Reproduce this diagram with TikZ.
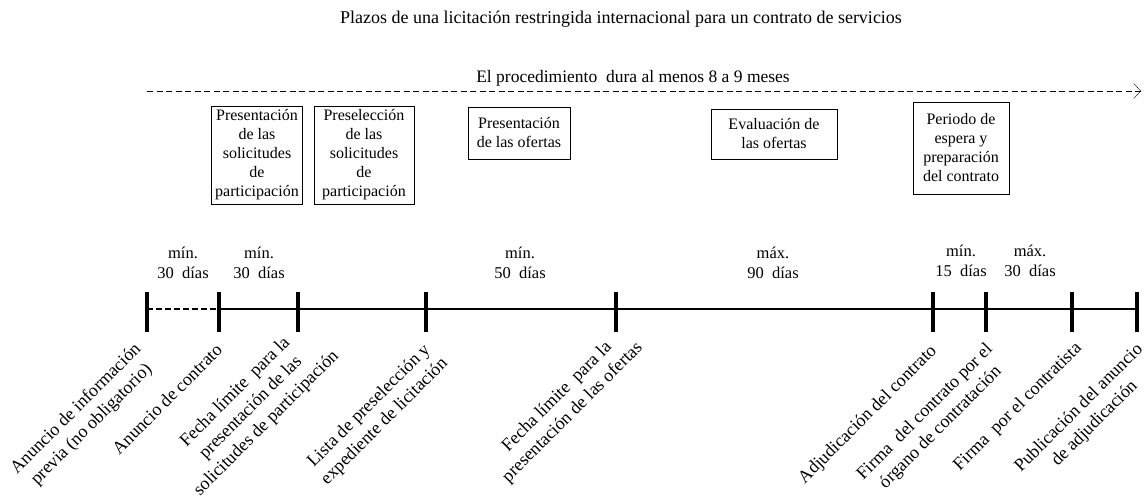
\documentclass[tikz,border=0pt]{standalone}
\usepackage{fontspec}
\setmainfont{Liberation Serif}
\usepackage{tikz}
\usetikzlibrary{arrows.meta}

\begin{document}
\begin{tikzpicture}[x=1pt,y=-1pt,
    box/.style={draw,thick,align=center,inner sep=2pt,font=\fontsize{16}{19}\selectfont},
    dur/.style={align=center,font=\fontsize{16.5}{20}\selectfont},
    lbl/.style={rotate=45,align=center,font=\fontsize{18}{22}\selectfont},
    tick/.style={line width=3.5pt},
    axis/.style={line width=1.2pt}]
                \useasboundingbox (0,0) rectangle (1147,500);
                \node (titulo) at (621,19) {\fontsize{18}{21}\selectfont Plazos de una licitación restringida internacional para un contrato de servicios};

                % duracion total
                \coordinate (ini) at (147,91);
                \coordinate (fin) at (1141,91);
                \draw[dashed,dash pattern=on 6pt off 3.5pt,arrows={-Straight Barb[length=7pt,width=15pt]}] (ini) -- (fin);
                \node (dura) at (633,78) {\fontsize{17.5}{20}\selectfont El procedimiento \ dura al menos 8 a 9 meses};

                % fases
                \node[box,minimum width=91pt,minimum height=98pt] (fase1) at (257,155) {Presentación\\de las\\solicitudes\\de\\participación};
                \node[box,minimum width=100pt,minimum height=98pt] (fase2) at (364,155) {Preselección\\de las\\solicitudes\\de\\participación};
                \node[box,minimum width=102pt,minimum height=52pt] (fase3) at (519,133) {Presentación\\de las ofertas};
                \node[box,minimum width=126pt,minimum height=50pt] (fase4) at (774,134) {Evaluación de\\las ofertas};
                \node[box,minimum width=96pt,minimum height=92pt] (fase5) at (961,148) {Periodo de\\espera y\\preparación\\del contrato};

                % eje
                \foreach \n/\x in {a/147,b/219,c/298,d/426,e/616,f/933,g/986,h/1072,i/1137}
                    \coordinate (\n) at (\x,309);
                \draw[axis,dashed,dash pattern=on 6pt off 3pt] (a) -- (b);
                \draw[axis] (b) -- (i);
                \foreach \n in {a,b,c,d,e,f,g,h,i}
                    \draw[tick] ([yshift=17pt]\n) -- ([yshift=-23pt]\n);

                % plazos
                \node[dur] (plazo1) at (183,263) {mín.\\30 \ días};
                \node[dur] (plazo2) at (259,263) {mín.\\30 \ días};
                \node[dur] (plazo3) at (520,263) {mín.\\50 \ días};
                \node[dur] (plazo4) at (773,263) {máx.\\90 \ días};
                \node[dur] (plazo5) at (961,261) {mín.\\15 \ días};
                \node[dur] (plazo6) at (1030,261) {máx.\\30 \ días};

                % hitos
                \node[lbl] (hito1) at (84,417) {Anuncio de información\\previa (no obligatorio)};
                \node[lbl] (hito2) at (167,399) {Anuncio de contrato};
                \node[lbl] (hito3) at (251,408) {Fecha límite \ para la\\presentación de las\\solicitudes de participación};
                \node[lbl] (hito4) at (377,414) {Lista de preselección y\\expediente de licitación};
                \node[lbl] (hito5) at (565,405) {Fecha límite \ para la\\presentación de las ofertas};
                \node[lbl] (hito6) at (868,415) {Adjudicación del contrato};
                \node[lbl] (hito7) at (933,420) {Firma \ del contrato por el\\órgano de contratación};
                \node[lbl] (hito8) at (1018,407) {Firma \ por el contratista};
                \node[lbl] (hito9) at (1087,416) {Publicación del anuncio\\de adjudicación};
\end{tikzpicture}
\end{document}
